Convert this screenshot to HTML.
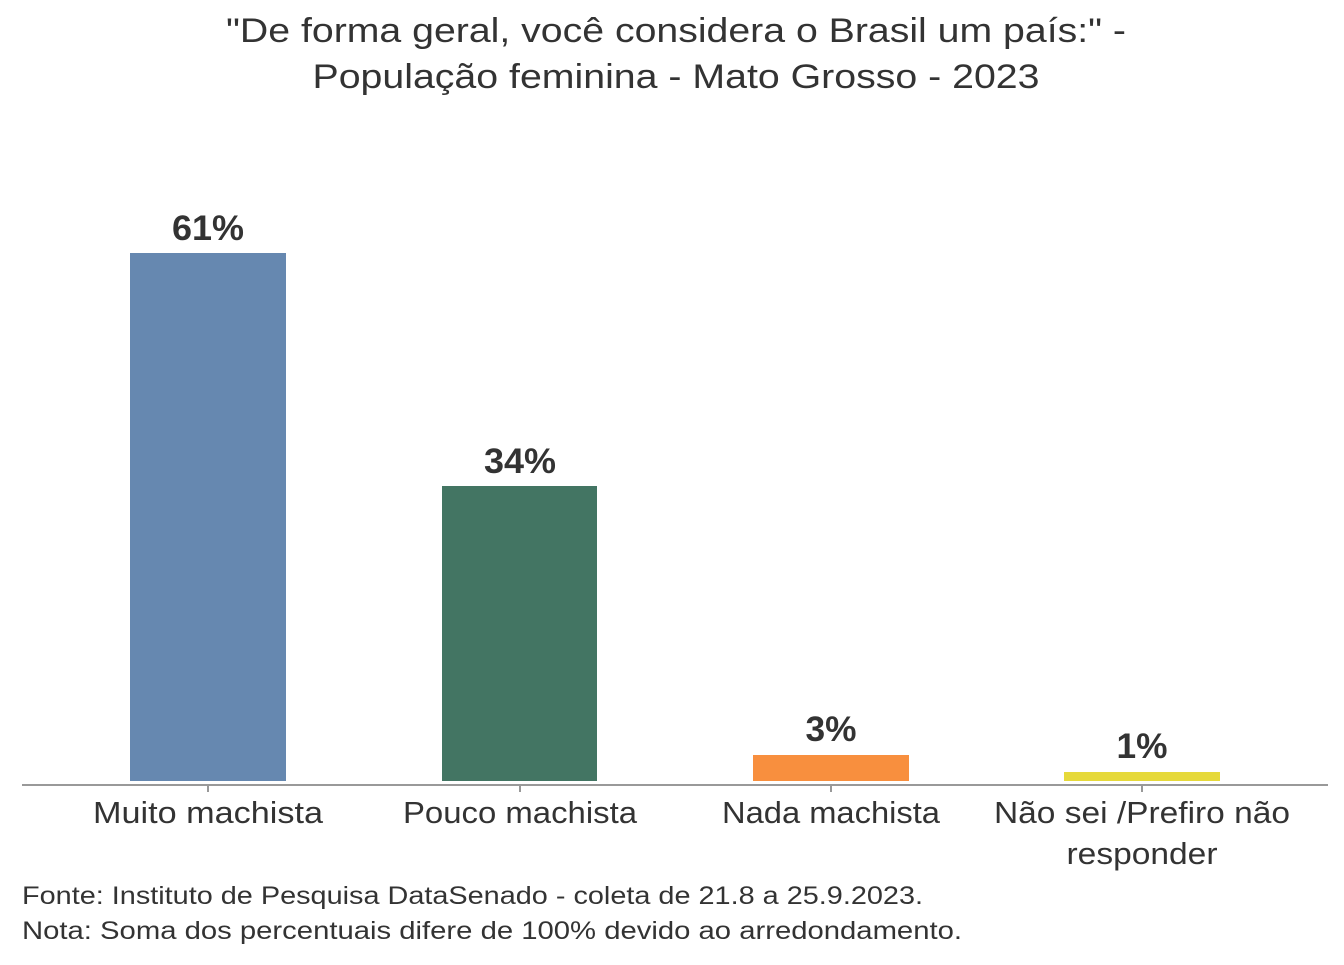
<!DOCTYPE html>
<html><head><meta charset="utf-8"><style>
body{margin:0;background:#fff;width:1344px;height:960px;overflow:hidden;font-family:"Liberation Sans",sans-serif;color:#333}
svg text{font-family:"Liberation Sans",sans-serif;fill:#333}
</style></head><body>
<svg width="1344" height="960" xmlns="http://www.w3.org/2000/svg">
<text x="676" y="42" font-size="34" text-anchor="middle" textLength="900" lengthAdjust="spacingAndGlyphs">"De forma geral, você considera o Brasil um país:" -</text>
<text x="676" y="88" font-size="34" text-anchor="middle" textLength="727" lengthAdjust="spacingAndGlyphs">População feminina - Mato Grosso - 2023</text>
<rect x="130" y="253" width="156" height="528" fill="#6688b0"/>
<rect x="442" y="486" width="155" height="295" fill="#437563"/>
<rect x="753" y="755" width="156" height="26" fill="#f88f3e"/>
<rect x="1064" y="772" width="156" height="9" fill="#e6d93a"/>
<g font-size="35" font-weight="bold" text-anchor="middle">
<text x="208" y="240" textLength="72" lengthAdjust="spacingAndGlyphs">61%</text>
<text x="520" y="473" textLength="72" lengthAdjust="spacingAndGlyphs">34%</text>
<text x="831" y="741" textLength="51" lengthAdjust="spacingAndGlyphs">3%</text>
<text x="1142" y="758" textLength="51" lengthAdjust="spacingAndGlyphs">1%</text>
</g>
<line x1="22" y1="785" x2="1328" y2="785" stroke="#999" stroke-width="2"/>
<g stroke="#999" stroke-width="2"><line x1="208" y1="785" x2="208" y2="792"/><line x1="520" y1="785" x2="520" y2="792"/><line x1="831" y1="785" x2="831" y2="792"/><line x1="1142" y1="785" x2="1142" y2="792"/></g>
<g font-size="31" text-anchor="middle">
<text x="208" y="823" textLength="230" lengthAdjust="spacingAndGlyphs">Muito machista</text>
<text x="520" y="823" textLength="234" lengthAdjust="spacingAndGlyphs">Pouco machista</text>
<text x="831" y="823" textLength="218" lengthAdjust="spacingAndGlyphs">Nada machista</text>
<text x="1142" y="823" textLength="296" lengthAdjust="spacingAndGlyphs">Não sei /Prefiro não</text>
<text x="1142" y="864" textLength="151" lengthAdjust="spacingAndGlyphs">responder</text>
</g>
<g font-size="25">
<text x="22" y="904" textLength="901" lengthAdjust="spacingAndGlyphs">Fonte: Instituto de Pesquisa DataSenado - coleta de 21.8 a 25.9.2023.</text>
<text x="22" y="939" textLength="940" lengthAdjust="spacingAndGlyphs">Nota: Soma dos percentuais difere de 100% devido ao arredondamento.</text>
</g>
</svg>
</body></html>
